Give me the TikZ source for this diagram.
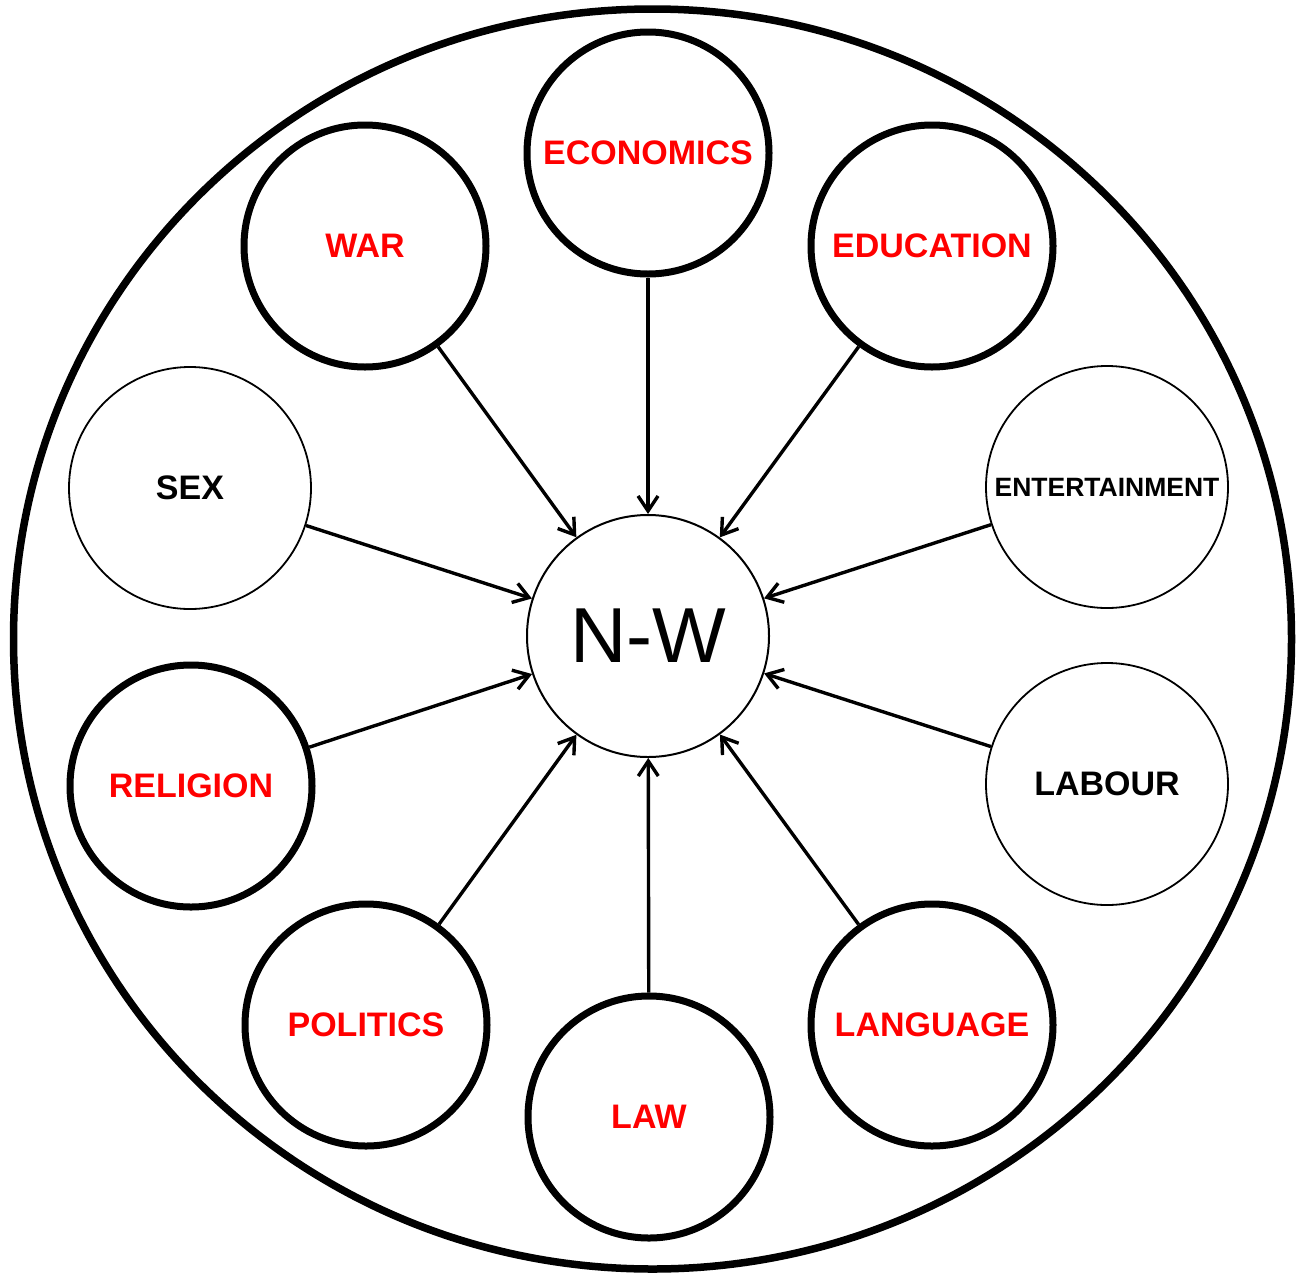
\documentclass[tikz,border=0pt]{standalone}
\usepackage{fontspec}
\setmainfont{Liberation Sans}
\usetikzlibrary{arrows.meta}

\begin{document}
\begin{tikzpicture}[x = 1pt, y = -1pt,
  minor/.style = {circle, draw, line width = 1.8pt, minimum size = 242pt, inner sep = 0pt,
    font = \fontsize{34}{40}\selectfont\bfseries},
  major/.style = {minor, line width = 7pt, text = red},
  > = {Straight Barb[length = 15pt, width = 20pt]}]
\useasboundingbox (0,0) rectangle (1296,1272);
\draw[line width = 7.5pt] (652.5,639) ellipse [x radius = 639pt, y radius = 630pt];

\node[minor, line width = 2pt, font = \fontsize{78}{90}\selectfont] (nw) at (648,636) {N-W};

\node[major] (eco) at (648,153) {ECONOMICS};
\node[major] (war) at (365,246) {WAR};
\node[major] (edu) at (932,246) {EDUCATION};
\node[minor] (sex) at (190,488) {SEX};
\node[minor, font = \fontsize{26.5}{30}\selectfont\bfseries] (ent) at (1107,487) {ENTERTAINMENT};
\node[major] (rel) at (191,786) {RELIGION};
\node[minor] (lab) at (1107,784) {LABOUR};
\node[major] (pol) at (366,1025) {POLITICS};
\node[major] (law) at (649,1117) {LAW};
\node[major] (lan) at (932,1025) {LANGUAGE};

\draw[->, line width = 3.4pt] (eco) -- (nw);
\draw[->, line width = 3.4pt] (war) -- (nw);
\draw[->, line width = 3.4pt] (edu) -- (nw);
\draw[->, line width = 3.4pt] (sex) -- (nw);
\draw[->, line width = 3.4pt] (ent) -- (nw);
\draw[->, line width = 3.4pt] (rel) -- (nw);
\draw[->, line width = 3.4pt] (lab) -- (nw);
\draw[->, line width = 3.4pt] (pol) -- (nw);
\draw[->, line width = 3.4pt] (law) -- (nw);
\draw[->, line width = 3.4pt] (lan) -- (nw);
\end{tikzpicture}
\end{document}
